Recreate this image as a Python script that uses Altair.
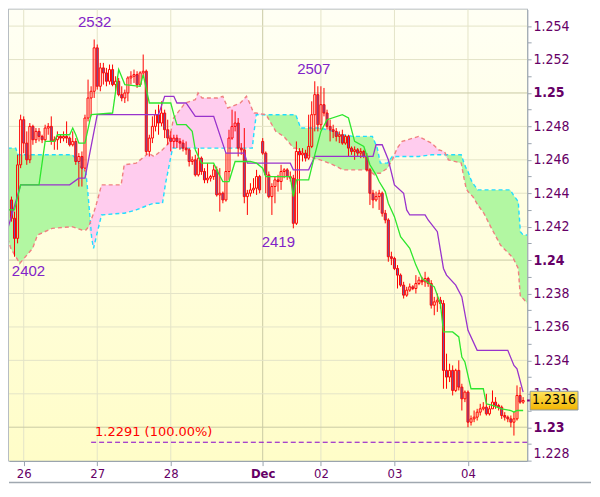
import altair as alt
import pandas as pd

W, H = 519, 452

# ---- hourly OHLC, quoted in pips like the chart labels (2532 -> 1.2532) ----
opens = [2436,2425,2413,2457,2484,2470,2460,2480,2472,2477,
         2474,2472,2479,2480,2471,2472,2474,2473,2474,2473,
         2469,2471,2459,2462,2455,2485,2497,2501,2527,2504,
         2515,2512,2507,2514,2505,2507,2499,2497,2500,2509,
         2510,2511,2505,2512,2513,2465,2473,2480,2487,2482,
         2488,2478,2473,2471,2473,2471,2470,2467,2466,2459,
         2460,2451,2461,2453,2448,2449,2450,2454,2439,2440,
         2436,2453,2473,2480,2482,2467,2466,2438,2440,2442,
         2443,2450,2471,2464,2451,2438,2444,2448,2447,2453,
         2454,2450,2449,2422,2465,2463,2464,2461,2468,2487,
         2499,2481,2493,2488,2480,2478,2477,2474,2475,2470,
         2474,2467,2465,2466,2464,2465,2462,2454,2440,2436,
         2438,2440,2428,2424,2402,2401,2395,2391,2385,2379,
         2382,2384,2383,2386,2388,2387,2389,2386,2373,2375,
         2376,2374,2334,2330,2334,2322,2334,2324,2317,2321,
         2303,2305,2306,2309,2311,2312,2308,2311,2315,2313,
         2312,2307,2306,2305,2303,2305,2319,2315]
highs = [2438,2429,2463,2487,2486,2477,2482,2481,2479,2479,
         2475,2481,2482,2486,2474,2477,2475,2477,2483,2474,
         2477,2473,2464,2465,2487,2508,2504,2532,2529,2518,
         2518,2515,2517,2517,2510,2509,2504,2502,2510,2513,
         2514,2513,2513,2523,2514,2475,2486,2490,2493,2495,
         2490,2484,2477,2475,2475,2473,2472,2471,2467,2462,
         2463,2467,2462,2455,2458,2451,2457,2456,2455,2441,
         2464,2478,2490,2489,2485,2470,2479,2442,2446,2449,
         2454,2451,2473,2465,2453,2446,2450,2451,2457,2455,
         2455,2453,2451,2471,2467,2467,2466,2487,2495,2507,
         2504,2504,2503,2490,2484,2481,2479,2477,2478,2475,
         2475,2468,2468,2467,2467,2466,2464,2455,2442,2441,
         2442,2441,2430,2425,2405,2402,2397,2392,2387,2384,
         2386,2385,2391,2390,2390,2393,2390,2388,2378,2380,
         2378,2376,2344,2338,2337,2335,2340,2326,2322,2322,
         2307,2310,2311,2314,2315,2320,2313,2322,2318,2314,
         2313,2309,2307,2307,2309,2325,2324,2318]
lows = [2423,2402,2410,2455,2464,2457,2458,2469,2470,2471,
        2470,2471,2475,2469,2466,2466,2470,2471,2470,2468,
        2468,2457,2444,2444,2453,2483,2486,2497,2502,2501,
        2505,2504,2505,2504,2501,2498,2495,2494,2495,2505,
        2506,2503,2504,2509,2463,2462,2470,2477,2475,2480,
        2473,2469,2465,2467,2467,2466,2465,2463,2456,2457,
        2450,2450,2451,2446,2446,2447,2448,2438,2429,2434,
        2435,2448,2472,2477,2462,2463,2434,2427,2438,2440,
        2439,2440,2463,2440,2437,2427,2434,2441,2442,2449,
        2448,2447,2419,2421,2440,2459,2459,2460,2467,2477,
        2477,2478,2486,2478,2471,2473,2471,2470,2469,2469,
        2462,2463,2460,2462,2461,2461,2453,2433,2431,2435,
        2430,2426,2422,2399,2397,2394,2383,2384,2377,2378,
        2381,2382,2380,2385,2385,2384,2384,2371,2367,2369,
        2371,2323,2323,2327,2319,2321,2322,2310,2315,2300,
        2301,2303,2304,2307,2310,2307,2307,2311,2311,2310,
        2305,2304,2303,2300,2295,2304,2314,2314]
closes = [2425,2413,2457,2484,2470,2460,2480,2472,2477,2474,
          2472,2479,2480,2471,2472,2474,2473,2474,2473,2469,
          2471,2459,2462,2455,2485,2497,2501,2527,2504,2515,
          2512,2507,2514,2505,2507,2499,2497,2500,2509,2510,
          2511,2505,2512,2513,2465,2473,2480,2487,2482,2488,
          2478,2473,2471,2473,2471,2470,2467,2466,2459,2460,
          2451,2461,2453,2448,2449,2450,2454,2439,2440,2436,
          2453,2473,2480,2482,2467,2466,2438,2440,2442,2443,
          2450,2442,2464,2451,2438,2444,2448,2447,2453,2454,
          2450,2449,2422,2465,2463,2464,2461,2468,2487,2499,
          2481,2493,2488,2480,2478,2477,2474,2475,2470,2474,
          2467,2465,2466,2464,2465,2462,2454,2440,2436,2438,
          2440,2428,2424,2402,2401,2395,2391,2385,2379,2382,
          2384,2383,2386,2388,2387,2389,2386,2373,2375,2376,
          2374,2334,2330,2334,2322,2334,2324,2317,2321,2303,
          2305,2306,2309,2311,2312,2308,2311,2315,2313,2312,
          2307,2306,2305,2303,2305,2319,2315,2316]

# ---- Tenkan (green) and Kijun (purple) lines: bar index / pips ----
tenkan_idx = [-1, 1, 3, 9, 11, 14, 15, 19, 20, 21, 22, 24, 26, 33, 35, 37, 42, 43, 45, 52,
              53, 54, 57, 59, 60, 62, 66, 67, 69, 71, 73, 78, 80, 82, 83, 91, 92, 93, 97, 99,
              101, 103, 108, 110, 112, 115, 117, 119, 120, 122, 123, 125, 127, 130, 132, 134,
              138, 140, 141, 144, 146, 147, 148, 150, 154, 155, 157, 160, 163, 164, 165, 167]
tenkan_val = [2430, 2430, 2445, 2445, 2471, 2471, 2475, 2475, 2479, 2475, 2470, 2470, 2487, 2488,
              2514, 2505, 2504, 2511, 2494, 2494, 2487, 2481, 2481, 2477, 2466, 2458, 2458, 2454,
              2447, 2447, 2459, 2459, 2458, 2455, 2450, 2450, 2438, 2448, 2448, 2463, 2477, 2484,
              2487, 2485, 2471, 2468, 2457, 2451, 2447, 2441, 2434, 2426, 2414, 2407, 2397, 2389,
              2384, 2374, 2357, 2357, 2354, 2342, 2339, 2323, 2323, 2314, 2313, 2311, 2310, 2309,
              2310, 2310]
kijun_idx = [-1, 3, 19, 22, 24, 28, 48, 50, 53, 54, 57, 60, 66, 70, 76, 77, 91, 92, 97, 99,
             118, 119, 121, 123, 125, 128, 129, 130, 135, 136, 139, 141, 142, 145, 147, 149,
             152, 162, 164, 165, 167]
kijun_val = [2420, 2445, 2445, 2449, 2449, 2487, 2487, 2498, 2498, 2494, 2494, 2486, 2486, 2464,
             2464, 2458, 2458, 2454, 2454, 2462, 2462, 2469, 2469, 2460, 2445, 2440, 2430, 2427,
             2427, 2424, 2417, 2395, 2391, 2385, 2378, 2358, 2346, 2346, 2337, 2335, 2321]

# ---- Cloud: Senkou span A (cyan) and B (salmon) ----
cloud_idx = [-1.2, -0.2, 1.4, 2.1, 2.7, 6.9, 8.5, 13.3, 19.8, 21.4, 23.0, 24.3, 25.2, 26.2, 26.8,
             27.8, 29.4, 35.8, 36.8, 40.7, 44.8, 46.5, 49.3, 50.3, 51.3, 51.6, 52.6, 52.9, 56.7,
             60.0, 60.9, 62.2, 67.3, 69.0, 70.6, 74.7, 76.7, 78.0, 78.6, 79.2, 79.9, 83.1, 86.3,
             88.9, 92.1, 92.8, 94.4, 98.5, 100.8, 105.0, 108.2, 111.4, 116.2, 117.8, 118.5,
             119.4, 120.4, 122.7, 124.3, 125.9, 127.5, 132.9, 137.1, 139.4, 141.3, 142.6, 146.8,
             147.7, 148.4, 149.0, 150.0, 150.6, 152.2, 154.2, 156.4, 159.6, 162.8, 163.8, 165.4,
             166.1, 167.0, 168.4]
span_a = [2467, 2467, 2467, 2463, 2463, 2463, 2463, 2463, 2463, 2460, 2455, 2453, 2435, 2413, 2407,
          2415, 2427, 2428, 2428, 2430, 2433, 2434, 2434, 2446, 2455, 2458, 2467, 2467, 2467,
          2467, 2467, 2467, 2467, 2467, 2467, 2467, 2467, 2467, 2467, 2477, 2487, 2487, 2487,
          2487, 2487, 2487, 2479, 2479, 2479, 2477, 2475, 2474, 2474, 2474, 2471,
          2467, 2458, 2458, 2462, 2462, 2462, 2462, 2463, 2463, 2463, 2463, 2463,
          2458, 2455, 2453, 2448, 2446, 2442, 2442, 2442, 2442, 2442, 2439, 2435,
          2417, 2415, 2415]
span_b = [2413, 2407, 2402, 2400, 2398, 2407, 2415, 2419, 2420, 2419, 2418, 2418, 2420, 2425, 2428,
          2434, 2445, 2445, 2457, 2458, 2464, 2462, 2466, 2468, 2470, 2473, 2482, 2485, 2494,
          2496, 2500, 2497, 2497, 2498, 2491, 2494, 2498, 2493, 2490, 2488, 2488, 2487, 2477,
          2474, 2467, 2467, 2465, 2461, 2460, 2457, 2454, 2454, 2454, 2452, 2451,
          2452, 2452, 2455, 2460, 2467, 2471, 2474, 2470, 2466, 2465, 2460, 2458,
          2449, 2443, 2441, 2439, 2438, 2433, 2428, 2420, 2409, 2403, 2401, 2395,
          2378, 2377, 2374]

# ---- annotations ----
ann_idx = [27, 99, 92, 1]
ann_val = [2532, 2507, 2419, 2402]
fib_price = 1.2291
fib_text = "1.2291 (100.00%)"
fib_start_idx = 26
last_text = "1.2316"

# ---- axes ----
x_tick_idx = [4, 28, 52, 82, 101, 125, 149]
x_tick_txt = ["26", "27", "28", "Dec", "02", "03", "04"]
y_ticks = [round(1.228 + k * 0.001, 3) for k in range(27)]
y_grid = [1.23, 1.232, 1.234, 1.236, 1.238, 1.24, 1.242, 1.244, 1.246, 1.248, 1.25, 1.252, 1.254]
y_major = [1.23, 1.24, 1.25]
x_major = [82]


def price(v):
    return 1 + v / 10000.0


RED = "#FF0000"
DOWN = "#6F57A5"
GREEN_FILL = "#B2F7A2"
PINK_FILL = "#FFCCEE"
CYAN = "#22DDFF"
SALMON = "#F08080"
TENKAN = "#2EE62E"
KIJUN = "#9933CC"
LABEL = "#660066"
AXIS = "#9AA4AE"
ANN = "#8224C8"
AXFONT = "DejaVu Sans Condensed, DejaVu Sans, sans-serif"

x_label_expr = "".join(f"datum.value == {v} ? '{t}' : " for v, t in zip(x_tick_idx, x_tick_txt)) + "''"
xs = alt.Scale(domain=[-0.8, 168.3], nice=False, zero=False)
ys = alt.Scale(domain=[1.228, 1.255], nice=False, zero=False)

x_axis = alt.Axis(values=x_tick_idx, labelExpr=x_label_expr, title=None, grid=False,
                  domainColor=AXIS, domainWidth=1.5, tickColor=AXIS, tickSize=5,
                  labelColor=LABEL, labelFont=AXFONT, labelFontSize=13, labelPadding=2,
                  labelOverlap=False,
                  labelFontWeight={"condition": {"test": "datum.value == 82", "value": "bold"},
                                   "value": "normal"})
y_axis = alt.Axis(orient="right", values=y_ticks, title=None, grid=False,
                  labelExpr="round(datum.value * 1000) % 2 == 0 ? format(datum.value, '.3~f') : ''",
                  domainColor=AXIS, domainWidth=1.5, tickColor=AXIS, tickSize=4, labelPadding=2,
                  labelFlush=True, labelOverlap=False, labelColor=LABEL,
                  labelFont=AXFONT, labelFontSize=14,
                  labelFontWeight={"condition": {"test": "abs(datum.value * 100 - round(datum.value * 100)) < 0.000001",
                                                 "value": "bold"}, "value": "normal"})


def X(f):
    return alt.X(f, type="quantitative", scale=xs, axis=x_axis)


def Y(f):
    return alt.Y(f, type="quantitative", scale=ys, axis=y_axis)


df_c = pd.DataFrame({
    "idx": list(range(len(closes))),
    "o": [price(v) for v in opens],
    "h": [price(v) for v in highs],
    "l": [price(v) for v in lows],
    "c": [price(v) for v in closes],
})
df_tk = pd.DataFrame({"idx": tenkan_idx, "p": [price(v) for v in tenkan_val]})
df_kj = pd.DataFrame({"idx": kijun_idx, "p": [price(v) for v in kijun_val]})
df_cloud = pd.DataFrame({"idx": cloud_idx, "a": [price(v) for v in span_a], "b": [price(v) for v in span_b]})
df_yg = pd.DataFrame({"v": y_grid, "major": [v in y_major for v in y_grid]})
df_xg = pd.DataFrame({"v": x_tick_idx, "major": [v in x_major for v in x_tick_idx]})
dummy = alt.Data(values=[{"d": 0}])

bg = alt.Chart(dummy).mark_rect(
    fill={"gradient": "linear", "x1": 0, "y1": 0, "x2": 0, "y2": 1,
          "stops": [{"offset": 0, "color": "#FFFFF4"}, {"offset": 1, "color": "#FFFDC8"}]},
    strokeWidth=0
).encode(x=alt.value(0), x2=alt.value(W), y=alt.value(0), y2=alt.value(H))

hgrid = alt.Chart(df_yg).mark_rule(strokeWidth=1).encode(
    y=Y("v"), color=alt.condition("datum.major", alt.value("#CACAA4"), alt.value("#E4E4C8")))
vgrid = alt.Chart(df_xg).mark_rule(strokeWidth=1).encode(
    x=X("v"), color=alt.condition("datum.major", alt.value("#CACAA4"), alt.value("#E4E4C8")))

cl = alt.Chart(df_cloud).transform_calculate(lo="min(datum.a, datum.b)")
green = cl.mark_area(color=GREEN_FILL, opacity=1, clip=True).encode(x=X("idx"), y=Y("a"), y2=alt.Y2("lo"))
pink = cl.mark_area(color=PINK_FILL, opacity=1, clip=True).encode(x=X("idx"), y=Y("b"), y2=alt.Y2("lo"))
line_a = cl.mark_line(color=CYAN, strokeWidth=1.4, strokeDash=[4, 3], clip=True).encode(x=X("idx"), y=Y("a"))
line_b = cl.mark_line(color=SALMON, strokeWidth=1.4, strokeDash=[4, 3], clip=True).encode(x=X("idx"), y=Y("b"))

cb = alt.Chart(df_c).transform_calculate(
    top="max(datum.o, datum.c)", bot="min(datum.o, datum.c)",
    x0="datum.idx - 0.33", x1="datum.idx + 0.33", up="datum.c >= datum.o")
wick_hi = cb.mark_rule(color=RED, strokeWidth=1).encode(x=X("idx"), y=Y("h"), y2=alt.Y2("top"))
wick_lo = cb.mark_rule(color=RED, strokeWidth=1).encode(x=X("idx"), y=Y("bot"), y2=alt.Y2("l"))
body = cb.mark_rect(stroke=RED, strokeWidth=1).encode(
    x=X("x0"), x2=alt.X2("x1"), y=Y("top"), y2=alt.Y2("bot"),
    fill=alt.condition("datum.up", alt.value("transparent"), alt.value(DOWN)))

tenkan = alt.Chart(df_tk).mark_line(color=TENKAN, strokeWidth=1.3, clip=True).encode(x=X("idx"), y=Y("p"))
kijun = alt.Chart(df_kj).mark_line(color=KIJUN, strokeWidth=1.3, clip=True).encode(x=X("idx"), y=Y("p"))

df_fib = pd.DataFrame({"x1": [fib_start_idx], "x2": [168.3], "p": [fib_price], "t": [fib_text]})
fib_line = alt.Chart(df_fib).mark_rule(color="#8800CC", strokeWidth=1, strokeDash=[5, 3]).encode(
    x=X("x1"), x2=alt.X2("x2"), y=Y("p"))
fib_lbl = alt.Chart(df_fib).mark_text(align="left", baseline="bottom", dx=4, dy=-3, color=RED,
                                      font="DejaVu Sans", fontSize=13).encode(x=X("x1"), y=Y("p"), text="t:N")

ann_offsets = [(0.5, -18), (-1, -12), (-15, 14), (14, 14)]
ann_layers = []
for i, v, (dx, dy) in zip(ann_idx, ann_val, ann_offsets):
    d = pd.DataFrame({"idx": [i], "p": [price(v)], "t": [str(v)]})
    ann_layers.append(alt.Chart(d).mark_text(align="center", baseline="middle", dx=dx, dy=dy, color=ANN,
                                             font="Liberation Sans", fontSize=15).encode(
        x=X("idx"), y=Y("p"), text="t:N"))

df_last = pd.DataFrame({"p": [price(closes[-1])], "t": [last_text]})
lb = alt.Chart(df_last).transform_calculate(pt="datum.p + 0.00055", pb="datum.p - 0.00057")
gold = lb.mark_rect(
    fill={"gradient": "linear", "x1": 0, "y1": 0, "x2": 0, "y2": 1,
          "stops": [{"offset": 0, "color": "#FFE45C"}, {"offset": 1, "color": "#F2B400"}]},
    stroke="#8C99A6", strokeWidth=1
).encode(x=alt.value(W + 3), x2=alt.value(W + 51), y=Y("pt"), y2=alt.Y2("pb"))
gold_txt = lb.mark_text(align="center", baseline="middle", color="#000000",
                        font=AXFONT, fontSize=14).encode(x=alt.value(W + 27), y=Y("p"), text="t:N")
marker = lb.mark_rule(color="#800080", strokeWidth=2).encode(x=alt.value(W), x2=alt.value(W + 4), y=Y("p"))

frame = alt.Chart(dummy).mark_rule(color="#A0A8B0", strokeWidth=1.5).encode(
    x=alt.value(0), x2=alt.value(W + 64), y=alt.value(H + 22))

chart = alt.layer(
    bg, vgrid, hgrid, green, pink, line_a, line_b,
    wick_hi, wick_lo, body, kijun, tenkan, fib_line, fib_lbl, *ann_layers,
    marker, gold, gold_txt, frame
).properties(
    width=W, height=H,
    padding=0,
    background="#FFFFFF"
).configure_view(stroke="#A0A8B0", strokeWidth=1.5)

chart.save("out.html", embed_options={"renderer": "svg", "actions": False})
